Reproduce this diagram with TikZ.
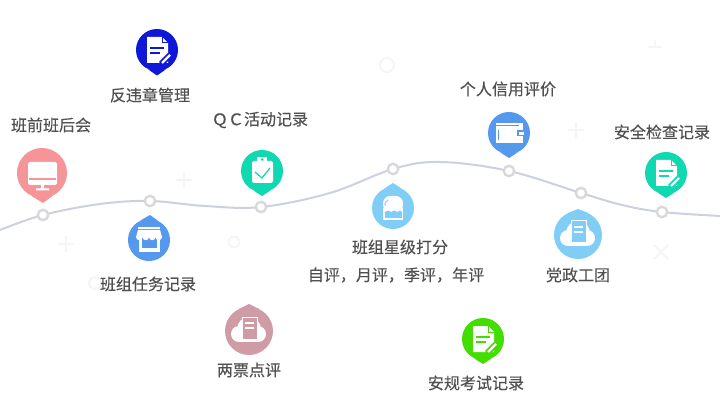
\documentclass[tikz,border=0pt]{standalone}
\usepackage{fontspec}
\setmainfont{Noto Sans CJK SC}[FakeBold=0.25]
\usetikzlibrary{backgrounds}
\definecolor{pinkpin}{HTML}{F59598}
\definecolor{navypin}{HTML}{1018D8}
\definecolor{tealpin}{HTML}{10D8B0}
\definecolor{bluepin}{HTML}{5599EE}
\definecolor{rosepin}{HTML}{CF9CA6}
\definecolor{skypin}{HTML}{80CDF5}
\definecolor{greenpin}{HTML}{44DD00}
\definecolor{curvecol}{HTML}{CDD0E0}
\definecolor{dotcol}{HTML}{D8D8D8}
\definecolor{faintcol}{HTML}{F4F5F8}
\definecolor{labelcol}{HTML}{505050}
\tikzset{
  pinhead/.style={circle, inner sep=0pt, minimum size=1.05cm, fill=#1},
  bigpinhead/.style={circle, inner sep=0pt, minimum size=1.2cm, fill=#1},
  curvedot/.style={circle, inner sep=0pt, minimum size=.26cm, fill=white, draw=dotcol, line width=.06cm},
  tag/.style={text=labelcol, font=\fontsize{11.4pt}{13pt}\selectfont, inner sep=0pt},
  faint/.style={draw=faintcol, line width=.05cm},
  docicon/.pic={
    \fill[white] (-10,-13) -- (5,-13) -- (11,-7) -- (11,13) -- (-10,13) -- cycle;
    \draw[#1, line width=.025cm] (5,-13) -- (5,-7) -- (11,-7);
    \draw[#1, line width=.03cm] (-7,-2) -- (7,-2) (-7,3) -- (3,3);
    \draw[#1, line width=.15cm] (4,14) -- (13,5);
    \draw[white, line width=.06cm] (5,13) -- (13,5);
  },
  cloudicon/.pic={
    \fill[white] (-10,3) circle (8) (9,3) circle (8) (0,-2) circle (12);
    \fill[white] (-10,3) rectangle (9,11);
    \fill[#1, draw=white, line width=.025cm] (-7,-14) rectangle (8,8);
    \draw[white, line width=.05cm] (-4,-8) -- (5,-8) (-4,-3) -- (5,-3);
  }
}
\begin{document}
\begin{tikzpicture}[x=.025cm, y=-.025cm]
    \useasboundingbox (0,0) rectangle (720,405);
    % faint marks behind everything
    \draw[faint] (184,172) -- (184,188) (176,180) -- (192,180);
    \draw[faint] (66,236) -- (66,252) (58,244) -- (74,244);
    \draw[faint] (576,122) -- (576,138) (568,130) -- (584,130);
    \draw[faint] (655,40) -- (655,48) (648,47) -- (662,47);
    \draw[faint] (654,245) -- (668,259) (668,245) -- (654,259);
    \draw[faint] (387,65) circle (7);
    \draw[faint] (234,242) circle (5.5);
    \draw[faint] (95,283) circle (6);
    \draw[faint] (166,95) circle (5);

    % points on the curve
    \node[curvedot] (d1) at (43,215) {};
    \node[curvedot] (d2) at (150,201) {};
    \node[curvedot] (d3) at (261,207) {};
    \node[curvedot] (d4) at (393,169) {};
    \node[curvedot] (d5) at (509,171) {};
    \node[curvedot] (d6) at (581,193) {};
    \node[curvedot] (d7) at (662,212) {};
    \coordinate (c0) at (0,230);
    \coordinate (c1) at (100,204);
    \coordinate (c2) at (205,206);
    \coordinate (c3) at (330,193);
    \coordinate (c4) at (440,162);
    \coordinate (c5) at (622,205);
    \coordinate (c6) at (720,216);
    \begin{scope}[on background layer]
        \draw[curvecol, line width=.05cm] plot[smooth, tension=.6] coordinates
        {(c0) (d1) (c1) (d2) (c2) (d3) (c3) (d4) (c4) (d5) (d6) (c5) (d7) (c6)};
    \end{scope}

    % pins
    \node[circle, inner sep=0pt, minimum size=1.25cm, fill=pinkpin] (monitor) at (42,173) {};
    \fill[pinkpin] (monitor.-115) -- (43,203) -- (monitor.-65);
    \node[pinhead=navypin] (breach) at (157,50) {};
    \fill[navypin] (breach.-115) -- (157,75.5) -- (breach.-65);
    \node[pinhead=tealpin] (qc) at (262,171) {};
    \fill[tealpin] (qc.-115) -- (262,196) -- (qc.-65);
    \node[pinhead=bluepin] (shop) at (149,240) {};
    \fill[bluepin] (shop.115) -- (150,215) -- (shop.65);
    \node[bigpinhead=rosepin] (tickets) at (249,331) {};
    \fill[rosepin] (tickets.115) -- (249,304) -- (tickets.65);
    \node[pinhead=skypin] (stars) at (393,208) {};
    \fill[skypin] (stars.115) -- (393,183) -- (stars.65);
    \node[pinhead=bluepin] (wallet) at (509,133) {};
    \fill[bluepin] (wallet.-115) -- (509,158) -- (wallet.-65);
    \node[bigpinhead=skypin] (party) at (578,235) {};
    \fill[skypin] (party.115) -- (578,209) -- (party.65);
    \node[pinhead=tealpin] (safety) at (666,173) {};
    \fill[tealpin] (safety.-115) -- (666,198) -- (safety.-65);
    \node[pinhead=greenpin] (exam) at (483,339) {};
    \fill[greenpin] (exam.-115) -- (483,364) -- (exam.-65);

    % icons
    \pic at (breach) {docicon=navypin};
    \pic at (safety) {docicon=tealpin};
    \pic at (exam) {docicon=greenpin};
    \pic at (tickets) {cloudicon=rosepin};
    \pic at (party) {cloudicon=skypin};
    \begin{scope}[shift={(monitor)}]
        \fill[white, rounded corners=.04cm] (-14,-11) rectangle (15,12);
        \draw[pinkpin, line width=.04cm] (-13,6) -- (14,6);
        \fill[white] (-1,12) rectangle (2,16) (-6,15.5) rectangle (7,17.5);
    \end{scope}
    \begin{scope}[shift={(qc)}]
        \fill[white, rounded corners=.04cm] (-10,-10) rectangle (11,12);
        \fill[white] (-5,-14) rectangle (5,-8);
        \fill[tealpin] (0,-11.5) circle (1.5);
        \draw[tealpin, line width=.03cm] (-7,1) -- (0,7) -- (8,-3);
    \end{scope}
    \begin{scope}[shift={(shop)}]
        \fill[white] (-11,-13) rectangle (11,-11);
        \fill[white] (-11,-10) -- (11,-10) -- (13,-3) -- (-13,-3) -- cycle;
        \fill[white] (-10,-1) rectangle (11,12);
        \fill[bluepin] (-7,-2) rectangle (8,8);
        \fill[white] (-13,-3) arc (180:0:3.25) arc (180:0:3.25) arc (180:0:3.25) arc (180:0:3.25);
    \end{scope}
    \begin{scope}[shift={(stars)}]
        \fill[white, rounded corners=.18cm] (-10,4) -- (-10,-12) -- (10,-12) -- (10,4) -- cycle;
        \fill[white] (-10,0) rectangle (10,12);
        \fill[skypin] (-8,4) -- (-5,2.5) -- (-2,4) -- (1,2.5) -- (4,4) -- (7,2.5) -- (9,4) -- (9,10) -- (-8,10) -- cycle;
        \draw[skypin, line width=.025cm] (-8,-2) -- (-8,-5) -- (-5,-8);
    \end{scope}
    \begin{scope}[shift={(wallet)}]
        \fill[white] (-13,-10) rectangle (14,10);
        \draw[bluepin, line width=.025cm] (-13,-7) -- (10,-7) (-11,-3) -- (-11,7);
        \fill[bluepin] (8,-2.5) rectangle (15,3.5);
        \fill[white] (10,-1) rectangle (15,2);
    \end{scope}

    % labels
    \node[tag] (tbreach) at (150,95) {反违章管理};
    \node[tag] (tmonitor) at (51,125) {班前班后会};
    \node[tag] (tqc) at (260,120) {ＱＣ活动记录};
    \node[tag] (twallet) at (508,89) {个人信用评价};
    \node[tag] (tsafety) at (662,132) {安全检查记录};
    \node[tag] (tshop) at (148,284) {班组任务记录};
    \node[tag] (ttickets) at (249,370) {两票点评};
    \node[tag] (tstars) at (400,247) {班组星级打分};
    \node[tag] (tstarsb) at (396,275) {自评，月评，季评，年评};
    \node[tag] (tparty) at (578,275) {党政工团};
    \node[tag] (texam) at (476,383) {安规考试记录};
\end{tikzpicture}
\end{document}
